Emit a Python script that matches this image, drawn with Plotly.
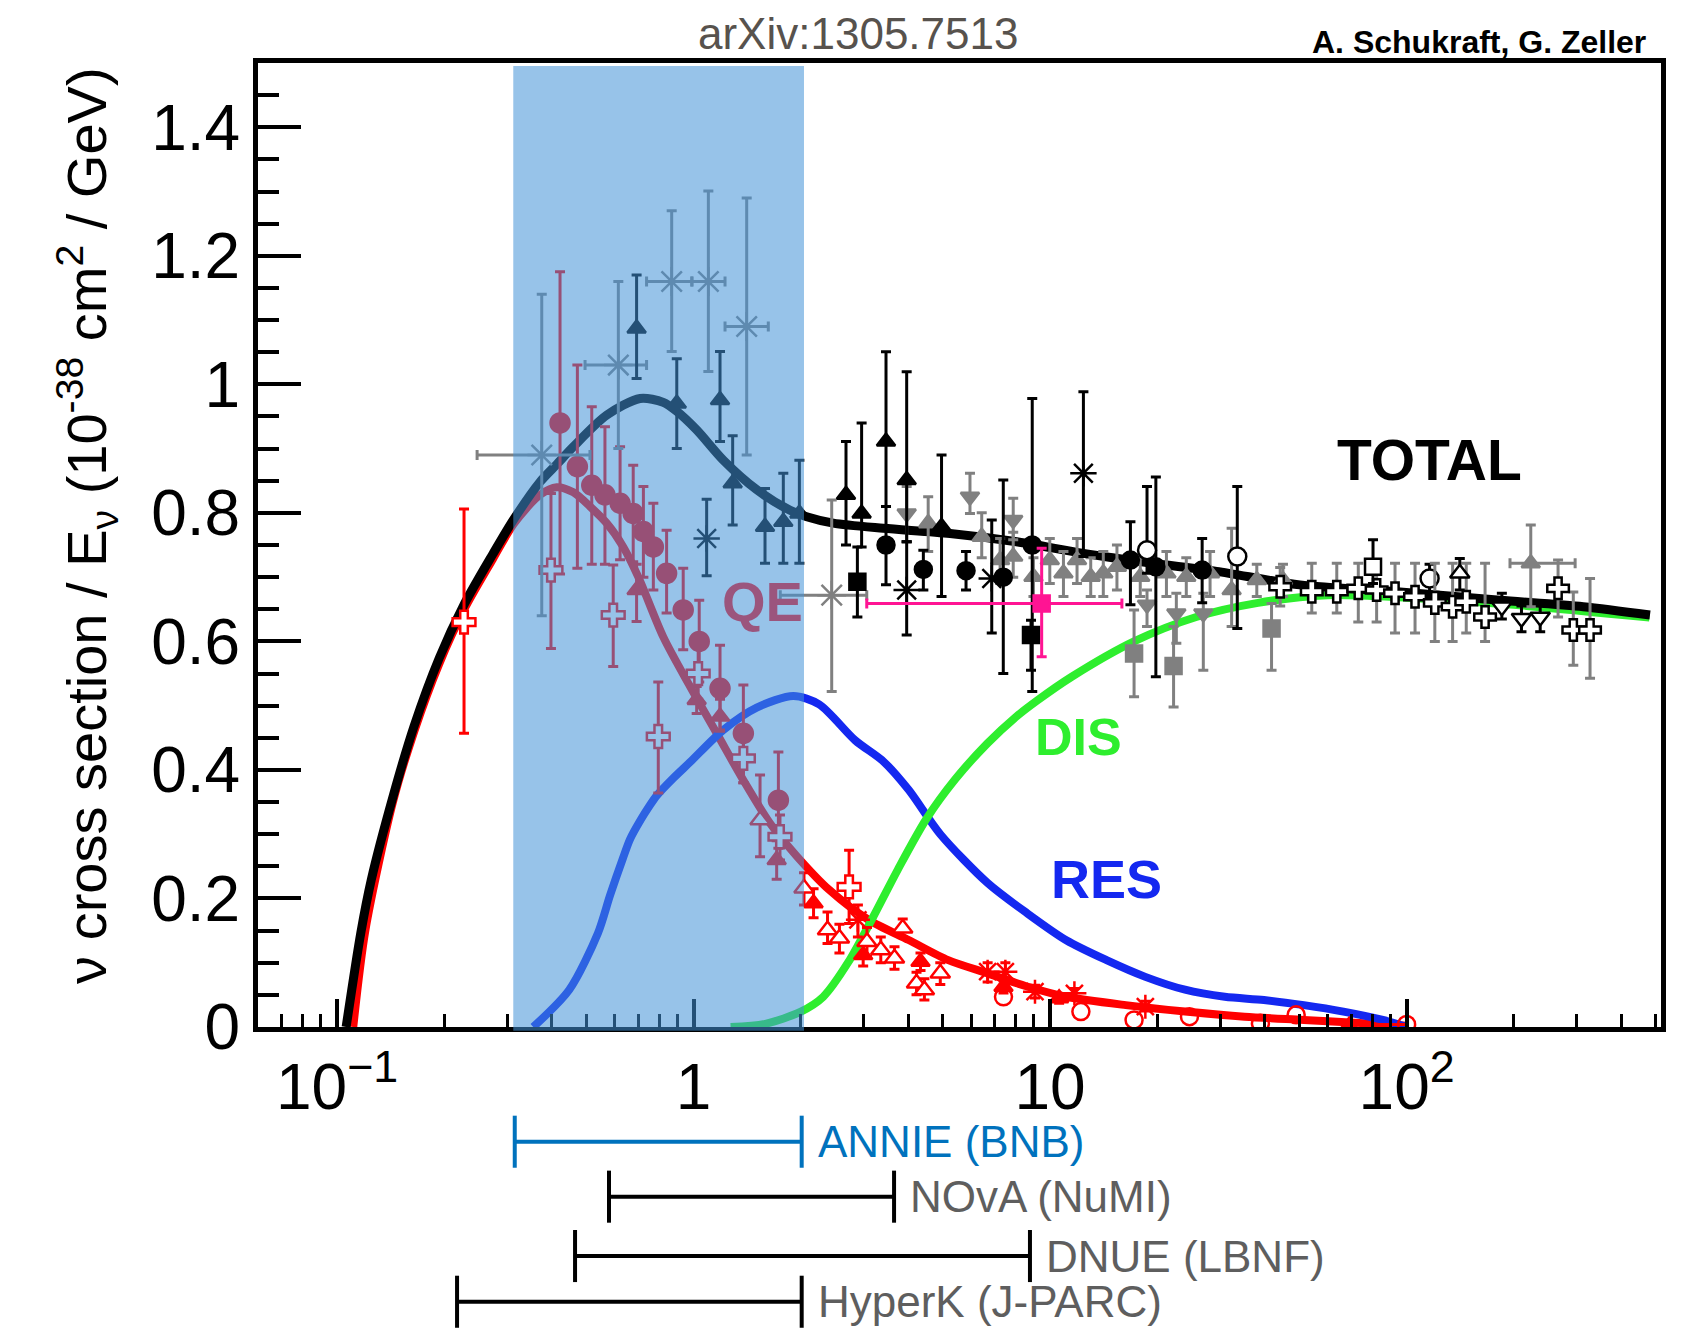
import numpy as np
import plotly.graph_objects as go

# ---------------- model curves ----------------
total_x = [0.106, 0.1165, 0.1248, 0.1434, 0.1646, 0.1934, 0.2274, 0.2735, 0.313, 0.3707, 0.414, 0.46, 0.5704,
           0.7077, 0.822, 0.897, 1.02, 1.211, 1.503, 1.864, 2.076, 2.465, 3.405, 5.24, 8.06, 12.4, 19.1,
           29.3, 50.2, 95.8, 182.8, 313.0, 481.6]
total_y = [0.0, 0.146, 0.230, 0.358, 0.469, 0.574, 0.658, 0.736, 0.790, 0.848, 0.876, 0.903, 0.952,
           0.978, 0.972, 0.958, 0.929, 0.882, 0.836, 0.804, 0.794, 0.784, 0.776, 0.768, 0.755, 0.737, 0.722,
           0.709, 0.688, 0.677, 0.664, 0.654, 0.641]

qe_x = [0.111, 0.12, 0.1434, 0.1646, 0.1934, 0.2274, 0.2735, 0.313, 0.3707, 0.413, 0.46, 0.512, 0.5704,
        0.635, 0.70, 0.822, 0.977, 1.161, 1.379, 1.638, 1.946, 2.405, 3.10, 4.01, 5.18, 6.68, 8.62, 11.1,
        16.3, 23.9, 35.1, 51.5, 75.5, 100.0]
qe_y = [0.0, 0.15, 0.35, 0.46, 0.565, 0.65, 0.728, 0.783, 0.828, 0.840, 0.832, 0.81, 0.784,
        0.747, 0.70, 0.607, 0.53, 0.457, 0.384, 0.317, 0.266, 0.213, 0.1665, 0.1354, 0.104, 0.0835, 0.063, 0.047,
        0.034, 0.024, 0.016, 0.011, 0.006, 0.002]

res_x = [0.355, 0.448, 0.539, 0.583, 0.633, 0.663, 0.71, 0.75, 0.788, 0.88, 0.977, 1.21, 1.503, 1.905, 2.25,
         2.84, 3.41, 4.01, 4.92, 6.68, 8.62, 11.1, 14.4, 18.5, 23.9, 30.9, 39.8, 51.5, 66.5, 85.8, 100.0]
res_y = [0.0, 0.058, 0.146, 0.205, 0.262, 0.292, 0.322, 0.343, 0.360, 0.388, 0.412, 0.462, 0.497, 0.515, 0.502,
         0.446, 0.413, 0.369, 0.30, 0.224, 0.177, 0.135, 0.104, 0.078, 0.058, 0.047, 0.042, 0.034, 0.024, 0.011, 0.0]

dis_x = [1.27, 1.59, 2.0, 2.31, 2.71, 3.18, 3.74, 4.5, 5.41, 6.66, 8.0, 9.2, 11.5, 17.2, 25.7, 38.3,
         60.0, 100.0, 200.0, 480.0]
dis_y = [0.0, 0.005, 0.024, 0.047, 0.10, 0.17, 0.245, 0.324, 0.385, 0.441, 0.482, 0.508, 0.545, 0.600,
         0.638, 0.660, 0.672, 0.668, 0.657, 0.637]

# ---------------- QE data (red) ----------------
qe_cross_x = [0.227, 0.398, 0.595, 0.796, 1.03, 1.379, 1.747, 2.73]
qe_cross_y = [0.630, 0.711, 0.641, 0.452, 0.550, 0.418, 0.296, 0.218]
qe_cross_hi = [0.806, 0.830, 0.719, 0.537, 0.590, 0.460, 0.330, 0.275]
qe_cross_lo = [0.457, 0.589, 0.561, 0.364, 0.510, 0.380, 0.260, 0.161]

qe_circ_x = [0.422, 0.472, 0.518, 0.564, 0.622, 0.677, 0.723, 0.771, 0.84, 0.935, 1.037, 1.186, 1.379, 1.729]
qe_circ_y = [0.940, 0.872, 0.843, 0.828, 0.815, 0.799, 0.771, 0.747, 0.706, 0.649, 0.600, 0.527, 0.457, 0.353]
qe_circ_hi = [1.175, 1.030, 0.965, 0.934, 0.903, 0.874, 0.841, 0.815, 0.773, 0.714, 0.664, 0.594, 0.532, 0.428]
qe_circ_lo = [0.705, 0.714, 0.720, 0.720, 0.727, 0.724, 0.700, 0.680, 0.644, 0.587, 0.537, 0.462, 0.380, 0.278]

qe_tri_x = [0.692, 1.02, 1.186, 1.71, 2.17, 2.99, 4.33, 7.4, 10.6, 69.0]
qe_tri_y = [0.680, 0.509, 0.483, 0.260, 0.1925, 0.112, 0.1016, 0.0627, 0.0447, 0.002]
qe_tri_hi = [0.720, 0.530, 0.510, 0.290, 0.215, 0.130, 0.115, 0.072, 0.052, 0.006]
qe_tri_lo = [0.631, 0.488, 0.460, 0.230, 0.170, 0.095, 0.088, 0.053, 0.037, 0.0]

qe_otri_x = [1.536, 2.04, 2.375, 2.565, 3.064, 3.35, 3.66, 3.86, 4.22, 4.44, 4.92]
qe_otri_y = [0.322, 0.216, 0.151, 0.138, 0.1327, 0.1198, 0.1069, 0.1535, 0.068, 0.0576, 0.0835]
qe_otri_hi = [0.392, 0.240, 0.179, 0.160, 0.155, 0.140, 0.125, 0.168, 0.085, 0.075, 0.100]
qe_otri_lo = [0.265, 0.190, 0.130, 0.115, 0.110, 0.100, 0.090, 0.140, 0.050, 0.042, 0.066]

qe_star_x = [2.89, 6.68, 7.49, 9.07, 11.7, 18.5]
qe_star_y = [0.1667, 0.086, 0.086, 0.055, 0.0524, 0.0316]
qe_star_hi = [0.190, 0.100, 0.100, 0.065, 0.060, 0.040]
qe_star_lo = [0.140, 0.070, 0.070, 0.045, 0.045, 0.025]

qe_ocirc_x = [7.4, 12.2, 17.2, 24.6, 38.9, 49.0, 100.0]
qe_ocirc_y = [0.047, 0.024, 0.011, 0.016, 0.006, 0.019, 0.004]
qe_ocirc_xlo = [7.4, 12.2, 17.2, 24.6, 38.9, 49.0, 75.5]

# ---------------- TOTAL data (black / gray) ----------------
gstar_x = [0.375, 0.615, 0.868, 1.10, 1.409, 2.44]
gstar_y = [0.89, 1.030, 1.160, 1.160, 1.090, 0.672]
gstar_hi = [1.14, 1.160, 1.270, 1.301, 1.290, 0.820]
gstar_lo = [0.64, 0.900, 1.051, 1.020, 0.890, 0.522]
gstar_xlo = [0.247, 0.496, 0.738, 0.989, 1.225, 1.75]
gstar_xhi = [0.512, 0.738, 0.989, 1.225, 1.62, 3.06]

kstar_x = [1.088, 3.96, 6.86, 12.4]
kstar_y = [0.760, 0.680, 0.698, 0.8615]
kstar_hi = [0.821, 0.755, 0.789, 0.9885]
kstar_lo = [0.702, 0.610, 0.613, 0.732]

ktri_x = [0.692, 0.897, 1.186, 1.287, 1.586, 1.785, 1.98, 2.676, 2.96, 3.465, 3.96, 4.96]
ktri_y = [1.087, 0.970, 0.9756, 0.846, 0.7785, 0.786, 0.799, 0.828, 0.799, 0.911, 0.851, 0.7785]
ktri_hi = [1.170, 1.040, 1.051, 0.920, 0.838, 0.8615, 0.882, 0.911, 0.940, 1.0506, 1.0196, 0.890]
ktri_lo = [1.009, 0.900, 0.911, 0.781, 0.7215, 0.7215, 0.7215, 0.750, 0.747, 0.810, 0.755, 0.670]

kcirc_x = [3.465, 4.41, 5.81, 7.39, 8.91, 16.8, 19.8, 26.7]
kcirc_y = [0.750, 0.712, 0.710, 0.700, 0.750, 0.7266, 0.716, 0.711]
kcirc_hi = [0.810, 0.742, 0.740, 0.851, 0.978, 0.786, 0.856, 0.760]
kcirc_lo = [0.688, 0.680, 0.680, 0.550, 0.522, 0.657, 0.545, 0.660]

ksq_x = [2.88, 8.84]
ksq_y = [0.693, 0.610]
ksq_hi = [0.747, 0.633]
ksq_lo = [0.638, 0.555]

gtrid_x = [3.96, 5.96, 7.88, 18.7, 22.6, 26.9]
gtrid_y = [0.799, 0.825, 0.789, 0.657, 0.6436, 0.6436]
gtrid_hi = [0.841, 0.8615, 0.8226, 0.680, 0.675, 0.675]
gtrid_lo = [0.755, 0.799, 0.758, 0.623, 0.597, 0.555]

gsq_x = [17.2, 22.2, 41.8]
gsq_y = [0.581, 0.5617, 0.620]
gsq_hi = [0.649, 0.623, 0.659]
gsq_lo = [0.514, 0.498, 0.555]

kocirc_x = [18.7, 33.5, 116.0]
kocirc_y = [0.742, 0.732, 0.698]
kocirc_hi = [0.841, 0.841, 0.720]
kocirc_lo = [0.706, 0.620, 0.675]

gtri_x = [4.55, 6.43, 7.24, 7.88, 8.98, 9.98, 10.9, 11.9, 13.0, 14.1, 15.4, 17.9, 21.2, 24.1, 28.1,
          32.3, 38.0, 45.0]
gtri_y = [0.784, 0.763, 0.7266, 0.732, 0.7006, 0.7266, 0.706, 0.7266, 0.7006, 0.706, 0.716, 0.7006,
          0.706, 0.7006, 0.706, 0.680, 0.6955, 0.6955]
gtri_hi = [0.825, 0.800, 0.760, 0.770, 0.730, 0.760, 0.740, 0.760, 0.730, 0.740, 0.750, 0.730,
           0.740, 0.730, 0.740, 0.776, 0.720, 0.720]
gtri_lo = [0.740, 0.730, 0.690, 0.700, 0.670, 0.690, 0.670, 0.690, 0.670, 0.670, 0.680, 0.670,
           0.670, 0.670, 0.670, 0.623, 0.670, 0.670]

gtri_he_x = [223.0]
gtri_he_y = [0.7215]
gtri_he_hi = [0.781]
gtri_he_lo = [0.654]
gtri_he_xlo = [195.0]
gtri_he_xhi = [297.0]

kcross_x = [44.2, 54.2, 63.7, 73.2, 82.4, 92.8, 105.6, 120.0, 134.6, 147.0, 166.0, 266.0, 293.5, 327.0]
kcross_y = [0.685, 0.6773, 0.6773, 0.6826, 0.680, 0.675, 0.6695, 0.660, 0.654, 0.6617, 0.638, 0.6826, 0.6177, 0.6177]
kcross_hi = [0.715, 0.7215, 0.7215, 0.7215, 0.7215, 0.7215, 0.7215, 0.7215, 0.7215, 0.7215, 0.7215, 0.7266, 0.677, 0.698]
kcross_lo = [0.655, 0.644, 0.644, 0.630, 0.630, 0.613, 0.613, 0.600, 0.600, 0.613, 0.600, 0.638, 0.563, 0.5425]

kosq_x = [80.5]
kosq_y = [0.716]
kosq_hi = [0.758]
kosq_lo = [0.690]

kotri_x = [141.0]
kotri_y = [0.706]
kotri_hi = [0.729]
kotri_lo = [0.680]

kotrid_x = [185.0, 210.0, 237.0]
kotrid_y = [0.654, 0.636, 0.638]
kotrid_hi = [0.675, 0.655, 0.660]
kotrid_lo = [0.635, 0.615, 0.615]

mag_x = [9.47]
mag_y = [0.659]
mag_hi = [0.745]
mag_lo = [0.576]
mag_xlo = [3.06]
mag_xhi = [15.9]

# ---------------- experiment energy ranges ----------------
exp_names = ["ANNIE (BNB)", "NOvA (NuMI)", "DNUE (LBNF)", "HyperK (J-PARC)"]
exp_emin = [0.315, 0.579, 0.465, 0.217]
exp_emax = [2.01, 3.65, 8.78, 2.01]
band_range = [0.312, 2.04]

# tick labels
xtick_vals = [0.1, 1, 10, 100]
xtick_text = ["10<sup>\u22121</sup>", "1", "10", "10<sup>2</sup>"]
ytick_vals = [0, 0.2, 0.4, 0.6, 0.8, 1.0, 1.2, 1.4]
ytick_text = ["0", "0.2", "0.4", "0.6", "0.8", "1", "1.2", "1.4"]

# ---------------- styles ----------------
RED = "#FF0000"
BLUE = "#1428F0"
GREEN = "#2EEE2E"
GRAY = "#808080"
BLACK = "#000000"
MAG = "#FF1493"
FONT = "Liberation Sans, Arial, Helvetica, sans-serif"

fig = go.Figure()


def curve(x, y, color, width):
    fig.add_trace(go.Scatter(x=x, y=y, mode="lines",
                             line=dict(color=color, width=width, shape="spline", smoothing=0.8),
                             hoverinfo="skip", showlegend=False))


def series(x, y, hi, lo, symbol, color, size=16, fill=None, ecolor=None, xlo=None, xhi=None, lw=2.5):
    ey = [h - v for h, v in zip(hi, y)]
    eym = [v - l for v, l in zip(y, lo)]
    ec = ecolor or color
    kw = {}
    if xlo is not None:
        kw["error_x"] = dict(type="data", symmetric=False,
                             array=[h - v for h, v in zip(xhi, x)],
                             arrayminus=[v - l for v, l in zip(x, xlo)],
                             color=ec, thickness=3, width=5)
    fig.add_trace(go.Scatter(
        x=x, y=y, mode="markers",
        marker=dict(symbol=symbol, size=size, color=fill if fill is not None else color,
                    line=dict(color=color, width=lw)),
        error_y=dict(type="data", symmetric=False, array=ey, arrayminus=eym,
                     color=ec, thickness=3, width=5),
        hoverinfo="skip", showlegend=False, **kw))


# curves
curve(qe_x, qe_y, RED, 8)
curve(res_x, res_y, BLUE, 8)
curve(dis_x, dis_y, GREEN, 8)
curve(total_x, total_y, BLACK, 9)

# QE data
series(qe_circ_x, qe_circ_y, qe_circ_hi, qe_circ_lo, "circle", RED, size=19)
series(qe_tri_x, qe_tri_y, qe_tri_hi, qe_tri_lo, "triangle-up", RED, size=16)
series(qe_otri_x, qe_otri_y, qe_otri_hi, qe_otri_lo, "triangle-up", RED, size=17, fill="white")
series(qe_star_x, qe_star_y, qe_star_hi, qe_star_lo, "asterisk-open", RED, size=20)
fig.add_trace(go.Scatter(x=qe_ocirc_x, y=qe_ocirc_y, mode="markers",
                         marker=dict(symbol="circle-open", size=17, color=RED, line=dict(color=RED, width=2.5)),
                         error_x=dict(type="data", symmetric=False, array=[0.0] * len(qe_ocirc_x),
                                      arrayminus=[v - l for v, l in zip(qe_ocirc_x, qe_ocirc_xlo)],
                                      color=RED, thickness=3, width=0),
                         hoverinfo="skip", showlegend=False))
series(qe_cross_x, qe_cross_y, qe_cross_hi, qe_cross_lo, "cross", RED, size=19, fill="white")

# TOTAL data
series(gstar_x, gstar_y, gstar_hi, gstar_lo, "asterisk-open", GRAY, size=24, xlo=gstar_xlo, xhi=gstar_xhi)
series(gtri_x, gtri_y, gtri_hi, gtri_lo, "triangle-up", GRAY, size=16)
series(gtri_he_x, gtri_he_y, gtri_he_hi, gtri_he_lo, "triangle-up", GRAY, size=16, xlo=gtri_he_xlo, xhi=gtri_he_xhi)
series(gtrid_x, gtrid_y, gtrid_hi, gtrid_lo, "triangle-down", GRAY, size=16)
series(gsq_x, gsq_y, gsq_hi, gsq_lo, "square", GRAY, size=16)
series(kcirc_x, kcirc_y, kcirc_hi, kcirc_lo, "circle", BLACK, size=17)
series(ktri_x, ktri_y, ktri_hi, ktri_lo, "triangle-up", BLACK, size=16)
series(ksq_x, ksq_y, ksq_hi, ksq_lo, "square", BLACK, size=16)
series(kstar_x, kstar_y, kstar_hi, kstar_lo, "asterisk-open", BLACK, size=22)
series(kocirc_x, kocirc_y, kocirc_hi, kocirc_lo, "circle", BLACK, size=18, fill="white")
series(kcross_x, kcross_y, kcross_hi, kcross_lo, "cross", BLACK, size=18, fill="white", ecolor=GRAY)
series(kosq_x, kosq_y, kosq_hi, kosq_lo, "square", BLACK, size=16, fill="white")
series(kotri_x, kotri_y, kotri_hi, kotri_lo, "triangle-up", BLACK, size=17, fill="white")
series(kotrid_x, kotrid_y, kotrid_hi, kotrid_lo, "triangle-down", BLACK, size=17, fill="white")
series(mag_x, mag_y, mag_hi, mag_lo, "square", MAG, size=16, xlo=mag_xlo, xhi=mag_xhi)

# ---------------- shapes (data-valued x on the log axis) ----------------
L = np.log10
shapes = [dict(type="rect", xref="x", yref="paper", x0=band_range[0], x1=band_range[1],
               y0=-0.004, y1=0.997, fillcolor="rgb(65,145,215)", opacity=0.55,
               line=dict(width=0), layer="above")]

row_y = [-0.119, -0.176, -0.2376, -0.285]
row_cap = 0.027
row_col = ["#0072BD", BLACK, BLACK, BLACK]
lab_col = ["#0072BD", "#5E5E5E", "#5E5E5E", "#5E5E5E"]
annotations = []
for name, e0, e1, yy, c, lc in zip(exp_names, exp_emin, exp_emax, row_y, row_col, lab_col):
    shapes.append(dict(type="line", xref="x", yref="paper", x0=e0, x1=e1, y0=yy, y1=yy,
                       line=dict(color=c, width=4)))
    for e in (e0, e1):
        shapes.append(dict(type="line", xref="x", yref="paper", x0=e, x1=e,
                           y0=yy - row_cap, y1=yy + row_cap, line=dict(color=c, width=4)))
    annotations.append(dict(xref="x", yref="paper", x=L(e1), y=yy, xanchor="left", yanchor="middle",
                            xshift=14, text=name, showarrow=False,
                            font=dict(family=FONT, size=44, color=lc)))

# curve labels and headers
annotations += [
    dict(xref="x", yref="y", x=L(116.3), y=0.883, text="<b>TOTAL</b>", showarrow=False,
         font=dict(family=FONT, size=57, color=BLACK)),
    dict(xref="x", yref="y", x=L(1.56), y=0.662, text="<b>QE</b>", showarrow=False,
         font=dict(family=FONT, size=56, color="rgb(155,85,125)")),
    dict(xref="x", yref="y", x=L(12.0), y=0.451, text="<b>DIS</b>", showarrow=False,
         font=dict(family=FONT, size=52, color=GREEN)),
    dict(xref="x", yref="y", x=L(14.37), y=0.231, text="<b>RES</b>", showarrow=False,
         font=dict(family=FONT, size=54, color=BLUE)),
    dict(xref="paper", yref="paper", x=0.428, y=1.0301, text="arXiv:1305.7513", showarrow=False,
         xanchor="center", yanchor="middle", font=dict(family=FONT, size=44, color="#57524D")),
    dict(xref="paper", yref="paper", x=0.9907, y=1.0223, text="<b>A. Schukraft, G. Zeller</b>",
         showarrow=False, xanchor="right", yanchor="middle", font=dict(family=FONT, size=32, color=BLACK)),
    dict(xref="paper", yref="paper", x=-0.122, y=0.5207, textangle=-90,
         text="\u03bd cross section / E<sub>\u03bd</sub> (10<sup>-38</sup> cm<sup>2</sup> / GeV)",
         showarrow=False, xanchor="center", yanchor="middle", font=dict(family=FONT, size=56, color=BLACK)),
]

minor_x = [0.07, 0.08, 0.09] + [k / 10 for k in range(2, 10)] + list(range(2, 10)) + \
          [10 * k for k in range(2, 10)] + [100 * k for k in range(2, 6)]

fig.update_layout(
    width=1681, height=1330,
    margin=dict(l=258, r=20, t=63, b=303),
    paper_bgcolor="white", plot_bgcolor="white",
    showlegend=False,
    shapes=shapes, annotations=annotations,
    xaxis=dict(type="log", range=[-1.2219, 2.7136], showgrid=False, zeroline=False,
               showline=True, linewidth=5, linecolor=BLACK, mirror=True,
               ticks="inside", ticklen=28, tickwidth=4, tickcolor=BLACK,
               tickmode="array", tickvals=xtick_vals, ticktext=xtick_text,
               tickfont=dict(family=FONT, size=64, color=BLACK), ticklabelstandoff=0,
               minor=dict(ticks="inside", ticklen=13, tickwidth=3, tickcolor=BLACK,
                          tickmode="array", tickvals=minor_x, showgrid=False)),
    yaxis=dict(range=[0, 1.5], showgrid=False, zeroline=False,
               showline=True, linewidth=5, linecolor=BLACK, mirror=True,
               ticks="inside", ticklen=43, tickwidth=4, tickcolor=BLACK,
               tickmode="array", tickvals=ytick_vals, ticktext=ytick_text,
               tickfont=dict(family=FONT, size=64, color=BLACK), ticklabelstandoff=0,
               minor=dict(ticks="inside", ticklen=21, tickwidth=4, tickcolor=BLACK,
                          dtick=0.05, tick0=0, showgrid=False)),
)

fig.write_html("out.html", include_plotlyjs=True, config={"displayModeBar": False},
               post_script="document.body.style.margin='0';document.body.style.overflow='hidden';")
